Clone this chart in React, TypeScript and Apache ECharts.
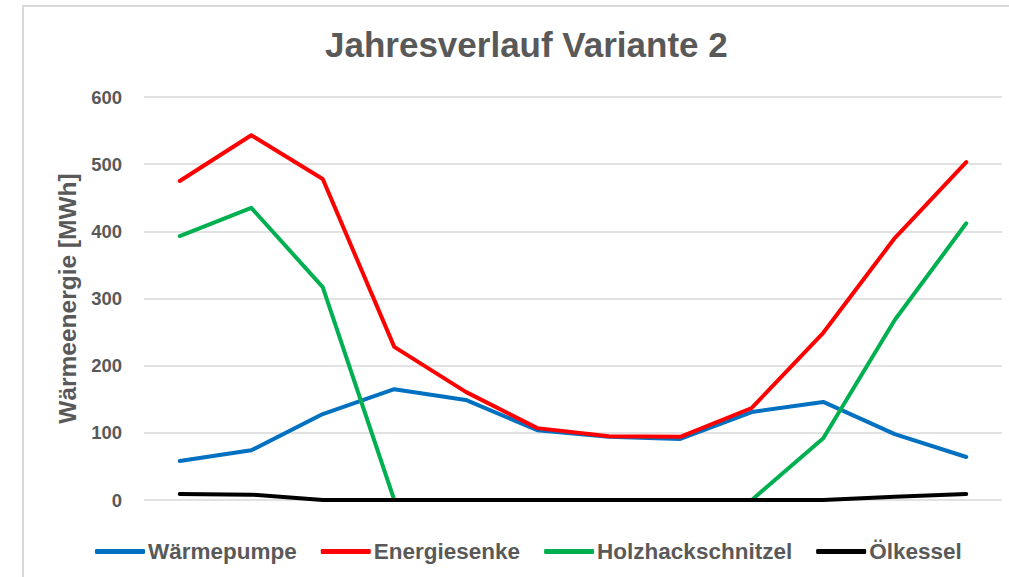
import React, { useEffect, useRef } from "react";
import * as echarts from "echarts";

const months = ["Jan", "Feb", "Mär", "Apr", "Mai", "Jun", "Jul", "Aug", "Sep", "Okt", "Nov", "Dez"];
const waermepumpe = [58, 74, 128, 165, 149, 104, 94, 91, 131, 146, 98, 64];
const energiesenke = [475, 543, 478, 228, 161, 107, 95, 94, 137, 249, 390, 503];
const holzhackschnitzel = [393, 435, 317, 0, 0, 0, 0, 0, 0, 92, 268, 412];
const oelkessel = [9, 8, 0, 0, 0, 0, 0, 0, 0, 0, 5, 9];

const seriesNames = ["Wärmepumpe", "Energiesenke", "Holzhackschnitzel", "Ölkessel"];
const seriesColors = ["#0070C0", "#FF0000", "#00B050", "#000000"];
const seriesData = [waermepumpe, energiesenke, holzhackschnitzel, oelkessel];

export default function App() {
  const ref = useRef<HTMLDivElement>(null);
  useEffect(() => {
    document.body.style.margin = "0";
    if (!ref.current) return;
    const chart = echarts.init(ref.current, null, { renderer: "svg" });
    const font = "'Liberation Sans', Arial, sans-serif";
    chart.setOption({
      animation: false,
      backgroundColor: "#ffffff",
      graphic: [
        {
          type: "rect",
          shape: { x: 23, y: 6, width: 1000, height: 600 },
          style: { fill: "none", stroke: "#d9d9d9", lineWidth: 2 },
          silent: true,
        },
      ],
      title: {
        text: "Jahresverlauf Variante 2",
        left: 320,
        top: 22,
        textStyle: { fontFamily: font, fontSize: 35, fontWeight: "bold", color: "#595959" },
      },
      legend: {
        data: seriesNames,
        left: 90,
        top: 535,
        itemWidth: 50,
        itemHeight: 5,
        itemGap: 24,
        icon: "roundRect",
        textStyle: { fontFamily: font, fontSize: 22.5, fontWeight: "bold", color: "#595959", padding: [0, 0, 0, -2] },
      },
      grid: { left: 144, right: 7, top: 97, bottom: 77 },
      xAxis: {
        type: "category",
        data: months,
        boundaryGap: true,
        axisLine: { show: false },
        axisTick: { show: false },
        axisLabel: { show: false },
      },
      yAxis: {
        type: "value",
        min: 0,
        max: 600,
        interval: 100,
        name: "Wärmeenergie [MWh]",
        nameLocation: "middle",
        nameGap: 63,
        nameTextStyle: { fontFamily: font, fontSize: 24.5, fontWeight: "bold", color: "#595959" },
        axisLine: { show: false },
        axisTick: { show: false },
        axisLabel: { fontFamily: font, fontSize: 18.5, fontWeight: "bold", color: "#595959", margin: 22 },
        splitLine: { lineStyle: { color: "#d9d9d9", width: 1.5 } },
      },
      series: seriesNames.map((name, i) => ({
        name,
        type: "line",
        data: seriesData[i],
        symbol: "none",
        color: seriesColors[i],
        lineStyle: { width: 4, color: seriesColors[i], cap: "round", join: "round" },
      })),
    });
    return () => chart.dispose();
  }, []);
  return <div ref={ref} style={{ width: 1009, height: 577 }} />;
}
